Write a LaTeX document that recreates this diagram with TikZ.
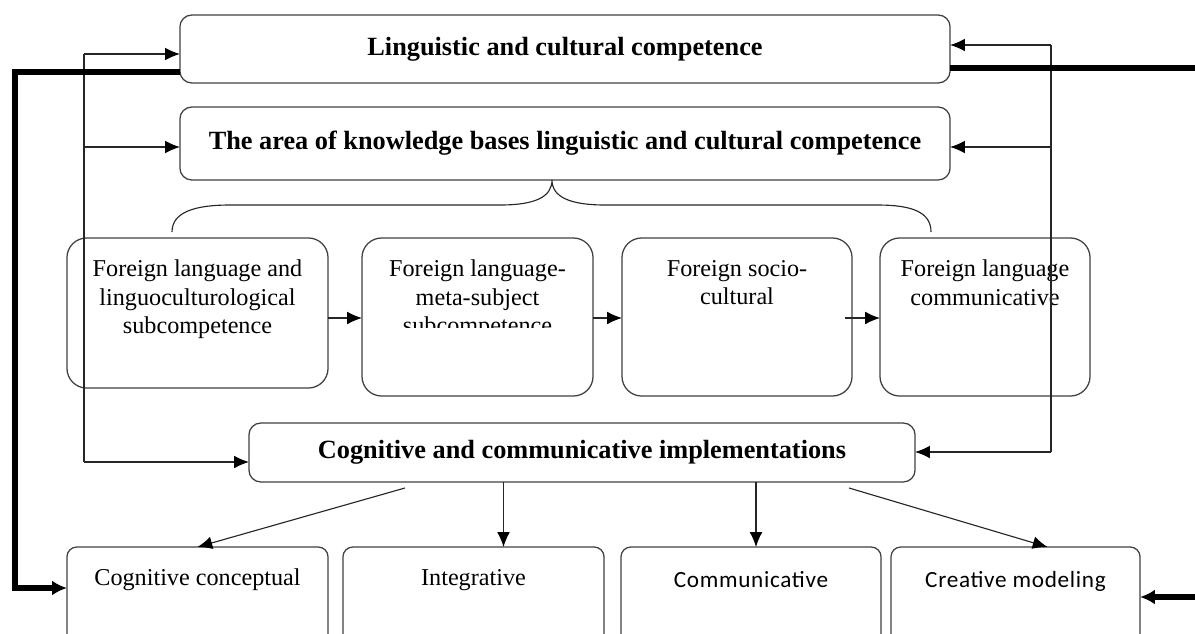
\documentclass[tikz,border=0pt]{standalone}
\usepackage{fontspec}
\setmainfont{Liberation Serif}
\newfontfamily\calsans[LetterSpace=3]{Carlito}
\usetikzlibrary{positioning,calc,arrows.meta}

\newcommand{\titlefont}{\fontsize{18.7}{22}\selectfont\bfseries}
\newcommand{\rowfont}{\fontsize{17.2}{20.3}\selectfont}
\newcommand{\lowsans}{\calsans\fontsize{16.5}{19}\selectfont}

\begin{document}
\begin{tikzpicture}[x=0.025cm, y=-0.025cm,
  every node/.style={inner sep=0pt, outer sep=0pt},
  titlebox/.style={draw=black!75, line width=0.9pt, rounded corners=8.5pt, font=\titlefont},
  rowbox/.style={draw=black!75, line width=0.9pt, rounded corners=14pt},
  lowbox/.style={draw=black!75, line width=0.9pt, rounded corners=7pt},
  rowtext/.style={font=\rowfont, align=center},
  conn/.style={draw=black!85, line width=0.8pt},
  arr/.style={conn, -{Latex[length=10.5pt,width=9pt,color=black]}},
  fatarr/.style={line width=3.6pt, -{Latex[length=10.5pt,width=10.5pt]}}
]
\useasboundingbox (0,0) rectangle (1195,633);
\clip (0,0) rectangle (1195,633);

% upper boxes
\node[titlebox, minimum width=19.25cm, minimum height=1.7cm] (lcc) at (565,49) {Linguistic and cultural competence};
\node[titlebox, minimum width=19.25cm, minimum height=1.825cm] (akb) at (565,143.5) {The area of knowledge bases linguistic and cultural competence};

% subcompetences
\node[rowbox, minimum width=6.525cm, minimum height=3.75cm] (flsub) at (197.5,313) {};
\node[rowbox, minimum width=5.775cm, minimum height=3.95cm] (metasub) at (477.5,317) {};
\node[rowbox, minimum width=5.75cm, minimum height=3.95cm] (sociocult) at (737,317) {};
\node[rowbox, minimum width=5.25cm, minimum height=3.95cm] (flcomm) at (985,317) {};
\node[rowtext, below=0.55cm of flsub.north] (flsub-t) {Foreign language and\\linguoculturological\\subcompetence};
\begin{scope}
\clip (metasub.north west) rectangle ($(metasub.east)+(0,10)$);
\node[rowtext, below=0.55cm of metasub.north] (metasub-t) {Foreign language-\\meta-subject\\subcompetence};
\end{scope}
\node[rowtext, below=0.55cm of sociocult.north] (sociocult-t) {Foreign socio-\\cultural};
\node[rowtext, below=0.55cm of flcomm.north] (flcomm-t) {Foreign language\\communicative};

\node[titlebox, minimum width=16.65cm, minimum height=1.475cm] (ccimpl) at (582,452.5) {Cognitive and communicative implementations};

% implementations
\node[lowbox, minimum width=6.525cm, minimum height=2.575cm] (cogcon) at (197.5,598.5) {};
\node[lowbox, minimum width=6.525cm, minimum height=2.575cm] (integr) at (473.5,598.5) {};
\node[lowbox, minimum width=6.5cm, minimum height=2.575cm] (commun) at (751,598.5) {};
\node[lowbox, minimum width=6.225cm, minimum height=2.575cm] (creamod) at (1015.5,598.5) {};
\node[font=\rowfont, below=0.55cm of cogcon.north] (cogcon-t) {Cognitive conceptual};
\node[font=\rowfont, below=0.55cm of integr.north] (integr-t) {Integrative};
\node[font=\lowsans, below=0.6cm of commun.north] (commun-t) {Communicative};
\node[font=\lowsans, below=0.6cm of creamod.north] (creamod-t) {Creative modeling};

% brace under the knowledge box
\coordinate (brtop) at (552,180);
\draw[conn] (172,232) .. controls (172,212) and (195,205) .. (230,205) -- (500,205)
  .. controls (535,205) and (552,197) .. (brtop)
  .. controls (552,197) and (570,205) .. (605,205) -- (877,205)
  .. controls (912,205) and (931,212) .. (931,232);

% feedback lines
\coordinate (lfb1) at (84,54);
\coordinate (lfb2) at (84,147);
\coordinate (lfb3) at (84,462);
\draw[conn] (lfb1) -- (lfb3);
\draw[arr] (lfb1) -- (lcc.west |- lfb1);
\draw[arr] (lfb2) -- (akb.west |- lfb2);
\draw[arr] (lfb3) -- (ccimpl.west |- lfb3);
\coordinate (rfb1) at (1051,45);
\coordinate (rfb2) at (1051,147);
\coordinate (rfb3) at (1051,452);
\draw[conn] (rfb1) -- (rfb3);
\draw[arr] (rfb1) -- (lcc.east |- rfb1);
\draw[arr] (rfb2) -- (akb.east |- rfb2);
\draw[arr] (rfb3) -- (ccimpl.east |- rfb3);

% thick lines
\coordinate (lft1) at (15,72);
\coordinate (lft2) at (15,588);
\draw[fatarr] ($(lcc.west)+(0,23)$) -- (lft1) -- (lft2) -- (cogcon.west |- lft2);
\coordinate (rgt1) at (1205,68);
\coordinate (rgt2) at (1205,597);
\draw[fatarr] ($(lcc.east)+(0,19)$) -- (rgt1) -- (rgt2) -- (creamod.east |- rgt2);

% row arrows
\coordinate (rowy) at (0,318);
\draw[arr] (flsub.east |- rowy) -- (metasub.west |- rowy);
\draw[arr] (metasub.east |- rowy) -- (sociocult.west |- rowy);
\draw[arr] ($(sociocult.east |- rowy)+(-7,0)$) -- (flcomm.west |- rowy);

% down to the implementations
\draw[arr] ($(ccimpl.south west)+(156,6)$) -- (cogcon.north);
\coordinate (intin) at ($(integr.north)+(30,0)$);
\draw[arr] (ccimpl.south -| intin) -- (intin);
\coordinate (comin) at ($(commun.north)+(5,0)$);
\draw[arr] (ccimpl.south -| comin) -- (comin);
\draw[arr] ($(ccimpl.south east)+(-66,6)$) -- ($(creamod.north)+(32,0)$);

\end{tikzpicture}
\end{document}
